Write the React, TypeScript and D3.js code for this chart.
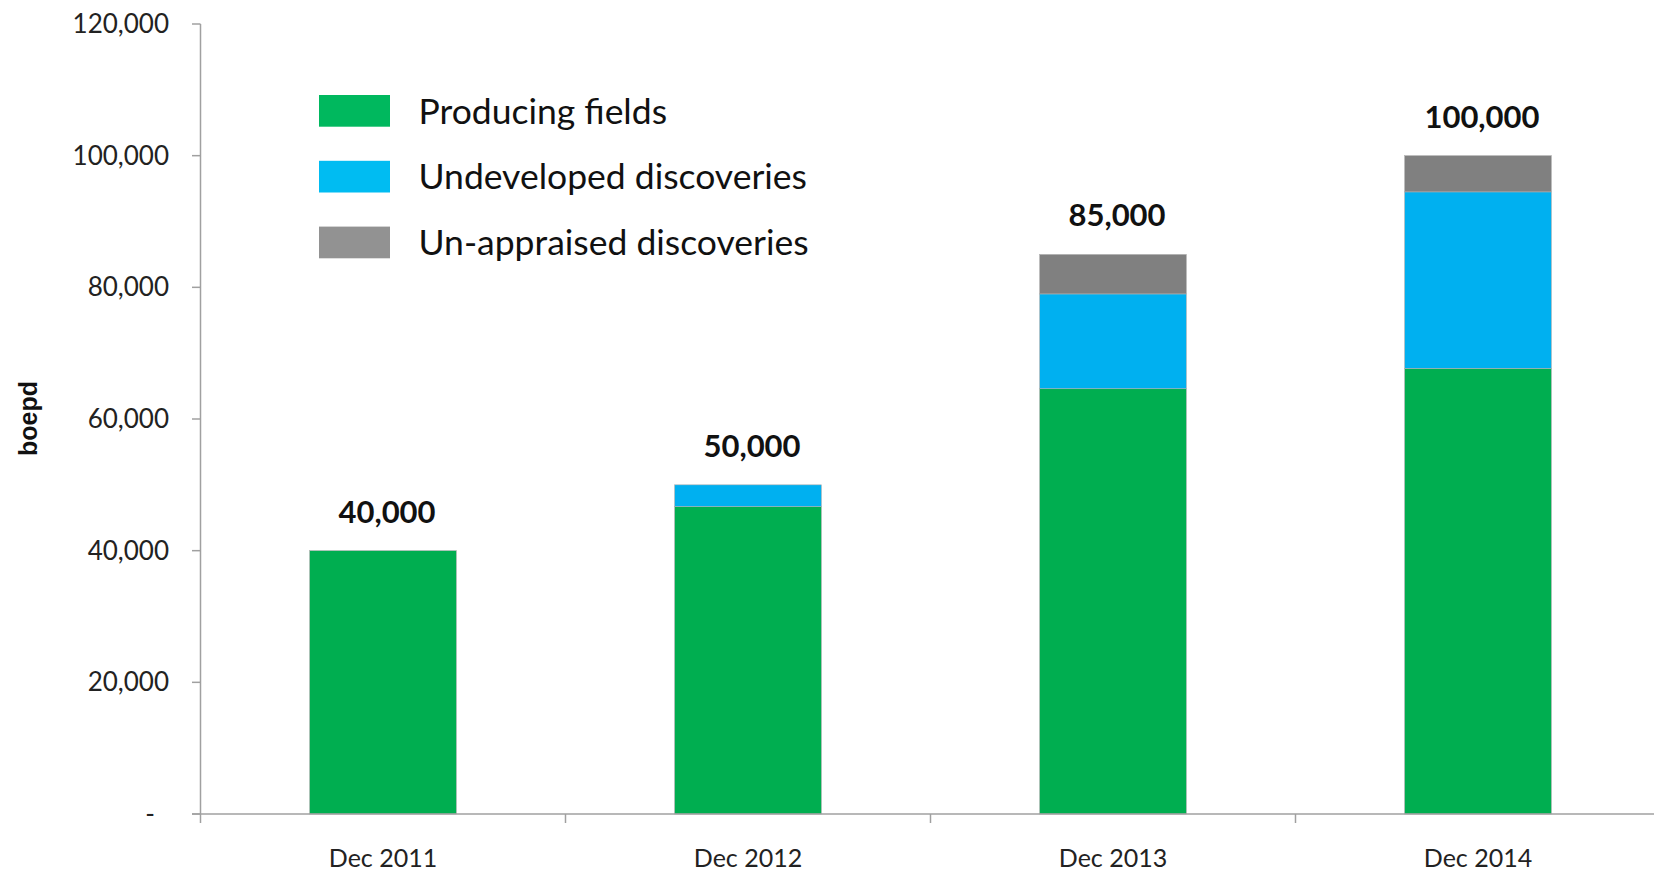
import React from "react";
import * as d3 from "d3";

const categories = ["Dec 2011", "Dec 2012", "Dec 2013", "Dec 2014"];
const producing = [40000, 46700, 64600, 67700];
const undeveloped = [0, 3300, 14400, 26800];
const unappraised = [0, 0, 6000, 5500];
const totals = [40000, 50000, 85000, 100000];
const yTicks = [0, 20000, 40000, 60000, 80000, 100000, 120000];
const seriesNames = ["Producing fields", "Undeveloped discoveries", "Un-appraised discoveries"];
const barColors = ["#00AE50", "#00B0F0", "#808080"];
const legendColors = ["#00B85E", "#00BCF2", "#929292"];

const W = 1654;
const H = 872;
const FONT = "Lato, 'Open Sans', sans-serif";

export default function App() {
  const x = d3.scaleBand<string>().domain(categories).range([200.5, 1660.5]).padding(0);
  const y = d3.scaleLinear().domain([0, 120000]).range([814, 24]);
  const barW = x.bandwidth() * 0.402;
  const fmt = d3.format(",");

  const rows = categories.map((c, i) => ({
    cat: c,
    producing: producing[i],
    undeveloped: undeveloped[i],
    unappraised: unappraised[i],
  }));
  const stack = d3.stack<any>().keys(["producing", "undeveloped", "unappraised"])(rows);

  const axisColor = "#a0a0a0";
  const boundaries = d3.range(categories.length + 1).map((i) => 200.5 + i * x.step());

  return (
    <svg width={W} height={H} style={{ position: "absolute", left: 0, top: 0, background: "#fff" }}>
      {/* bars */}
      {stack.map((layer, si) =>
        layer.map((d, i) =>
          d[1] - d[0] > 0 ? (
            <rect
              key={`${si}-${i}`}
              x={(x(categories[i]) as number) + (x.bandwidth() - barW) / 2}
              y={y(d[1])}
              width={barW}
              height={y(d[0]) - y(d[1])}
              fill={barColors[si]}
              stroke="#b0b0b0"
              strokeWidth={0.6}
            />
          ) : null
        )
      )}
      {/* total labels */}
      {totals.map((t, i) => (
        <text
          key={`t${i}`}
          x={(x(categories[i]) as number) + x.bandwidth() / 2 + 4}
          y={y(t) - 28}
          textAnchor="middle"
          fontFamily={FONT}
          fontWeight="bold"
          fontSize={31}
          fill="#111"
        >
          {fmt(t)}
        </text>
      ))}
      {/* y axis */}
      <line x1={200.5} x2={200.5} y1={y(120000)} y2={y(0)} stroke={axisColor} strokeWidth={1.5} />
      {yTicks.map((t) => (
        <g key={`y${t}`}>
          <line x1={192} x2={200.5} y1={y(t)} y2={y(t)} stroke={axisColor} strokeWidth={1.5} />
          <text
            x={t === 0 ? 155 : 169}
            y={y(t)}
            dy="0.35em"
            textAnchor="end"
            fontFamily={FONT}
            fontSize={26}
            fill="#222"
          >
            {t === 0 ? "-" : fmt(t)}
          </text>
        </g>
      ))}
      {/* x axis */}
      <line x1={192} x2={W} y1={y(0)} y2={y(0)} stroke={axisColor} strokeWidth={1.5} />
      {boundaries.map((b, i) => (
        <line key={`xt${i}`} x1={b} x2={b} y1={y(0)} y2={y(0) + 9} stroke={axisColor} strokeWidth={1.5} />
      ))}
      {categories.map((c) => (
        <text
          key={c}
          x={(x(c) as number) + x.bandwidth() / 2}
          y={867}
          textAnchor="middle"
          fontFamily={FONT}
          fontSize={25}
          fill="#222"
        >
          {c}
        </text>
      ))}
      {/* y title */}
      <text
        transform={`translate(37,418.5) rotate(-90)`}
        textAnchor="middle"
        fontFamily="'Liberation Sans', Arial, sans-serif"
        fontWeight="bold"
        fontSize={25}
        fill="#111"
      >
        boepd
      </text>
      {/* legend */}
      {seriesNames.map((n, i) => (
        <g key={n} transform={`translate(319, ${95 + i * 65.8})`}>
          <rect x={0} y={0} width={71} height={31.7} fill={legendColors[i]} />
          <text x={99.5} y={28.5} fontFamily={FONT} fontSize={35.5} fill="#111">
            {n}
          </text>
        </g>
      ))}
    </svg>
  );
}
